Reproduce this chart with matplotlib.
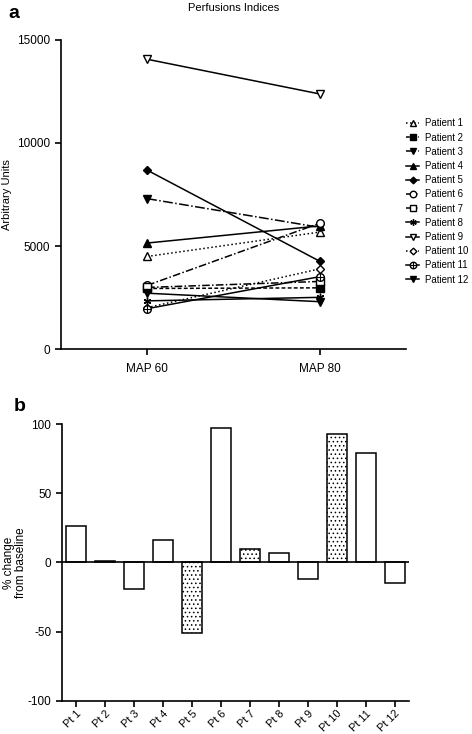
import matplotlib
matplotlib.use("Agg")
import matplotlib.pyplot as plt
from matplotlib.legend_handler import HandlerTuple

plt.rcParams['font.family'] = ['Liberation Sans', 'DejaVu Sans']
plt.rcParams['axes.unicode_minus'] = False
plt.rcParams['hatch.linewidth'] = 0.6

# -------------------- Data --------------------
conditions = ["MAP 60", "MAP 80"]
patients = ["Patient %d" % i for i in range(1, 13)]

map60 = [4500, 2950, 7300, 5150, 8680, 3100, 3000, 2350, 14050, 2020, 1970, 2720]
map80 = [5680, 2980, 5910, 5980, 4270, 6110, 3290, 2520, 12370, 3900, 3520, 2310]

bar_labels = ["Pt %d" % i for i in range(1, 13)]
pct_change = [26.3, 1.0, -19.0, 16.1, -50.8, 97.1, 10.1, 7.2, -12.0, 93.3, 79.0, -14.9]
hatched = [False, False, False, False, True, False, True, False, False, True, False, False]

# -------------------- Styles --------------------
# (linestyle, marker, filled)
styles = [
    (":", "^", False),
    ((0, (2.5, 1.5)), "s", True),
    ("-.", "v", True),
    ("-", "^", True),
    ("-", "D", True),
    ((0, (5, 1.5, 1, 1.5)), "o", False),
    ((0, (5, 1.5, 1, 1.5)), "s", False),
    ("-", (6, 2, 0), True),
    ("-", "v", False),
    (":", "D", False),
    ("-", "o", False),
    ("-", "v", True),
]

fig = plt.figure(figsize=(4.72, 7.34), dpi=100)

# -------------------- Panel a --------------------
ax1 = fig.add_axes([0.129, 0.524, 0.731, 0.422])
x = [0, 1]
handles = []
for i, name in enumerate(patients):
    ls, mk, filled = styles[i]
    ms = 4 if mk == "D" else 5.5
    line, = ax1.plot(x, [map60[i], map80[i]], linestyle=ls, color="black", lw=1.1,
                     marker=mk, ms=ms, mec="black", mew=1.0,
                     mfc="black" if filled else "white")
    if i == 10:
        cross, = ax1.plot(x, [map60[i], map80[i]], linestyle="none", marker="+",
                          ms=5.5, mec="black", mew=0.8)
        handles.append((line, cross))
    else:
        handles.append(line)

ax1.set_xlim(-0.5, 1.5)
ax1.set_ylim(0, 15000)
ax1.set_xticks(x)
ax1.set_xticklabels(conditions, fontsize=8.5)
ax1.set_yticks([0, 5000, 10000, 15000])
ax1.tick_params(axis="y", labelsize=8.5, direction="out", length=4, width=1.2)
ax1.tick_params(axis="x", direction="out", length=4, width=1.2, pad=6)
ax1.spines["top"].set_visible(False)
ax1.spines["right"].set_visible(False)
ax1.spines["left"].set_linewidth(1.2)
ax1.spines["bottom"].set_linewidth(1.2)
ax1.set_ylabel("Arbitrary Units", fontsize=8)
fig.text(0.494, 0.989, "Perfusions Indices", fontsize=8, ha="center", va="center")

leg = ax1.legend(handles, patients, loc="upper left", bbox_to_anchor=(0.999, 0.746),
                 frameon=False, fontsize=6.9, handlelength=1.45, handletextpad=0.6,
                 labelspacing=0.44, borderaxespad=0.0, borderpad=0.0,
                 markerscale=0.85,
                 handler_map={tuple: HandlerTuple(ndivide=1)})

fig.text(0.018, 0.975, "a", fontsize=14, fontweight="bold")

# -------------------- Panel b --------------------
ax2 = fig.add_axes([0.131, 0.0454, 0.736, 0.3766])
pos = list(range(len(bar_labels)))
bars = ax2.bar(pos, pct_change, width=0.68, color="white", edgecolor="black",
               linewidth=1.1)
for b, h in zip(bars, hatched):
    if h:
        b.set_hatch("....")
ax2.axhline(0, color="black", lw=1.2)
ax2.set_xlim(-0.5, 11.5)
ax2.set_ylim(-100, 100)
ax2.set_yticks([-100, -50, 0, 50, 100])
ax2.set_xticks(pos)
ax2.set_xticklabels(bar_labels, rotation=45, ha="right", rotation_mode="anchor",
                    fontsize=7.8)
ax2.tick_params(axis="y", labelsize=8.5, direction="out", length=4, width=1.2)
ax2.tick_params(axis="x", direction="out", length=4, width=1.2, pad=1.5)
ax2.spines["top"].set_visible(False)
ax2.spines["right"].set_visible(False)
ax2.spines["left"].set_linewidth(1.2)
ax2.spines["bottom"].set_linewidth(1.2)
ax2.set_ylabel("% change\nfrom baseline", fontsize=8.5, labelpad=0.5, linespacing=1.0)

fig.text(0.028, 0.44, "b", fontsize=14, fontweight="bold")

fig.savefig("out.png", dpi=100)
